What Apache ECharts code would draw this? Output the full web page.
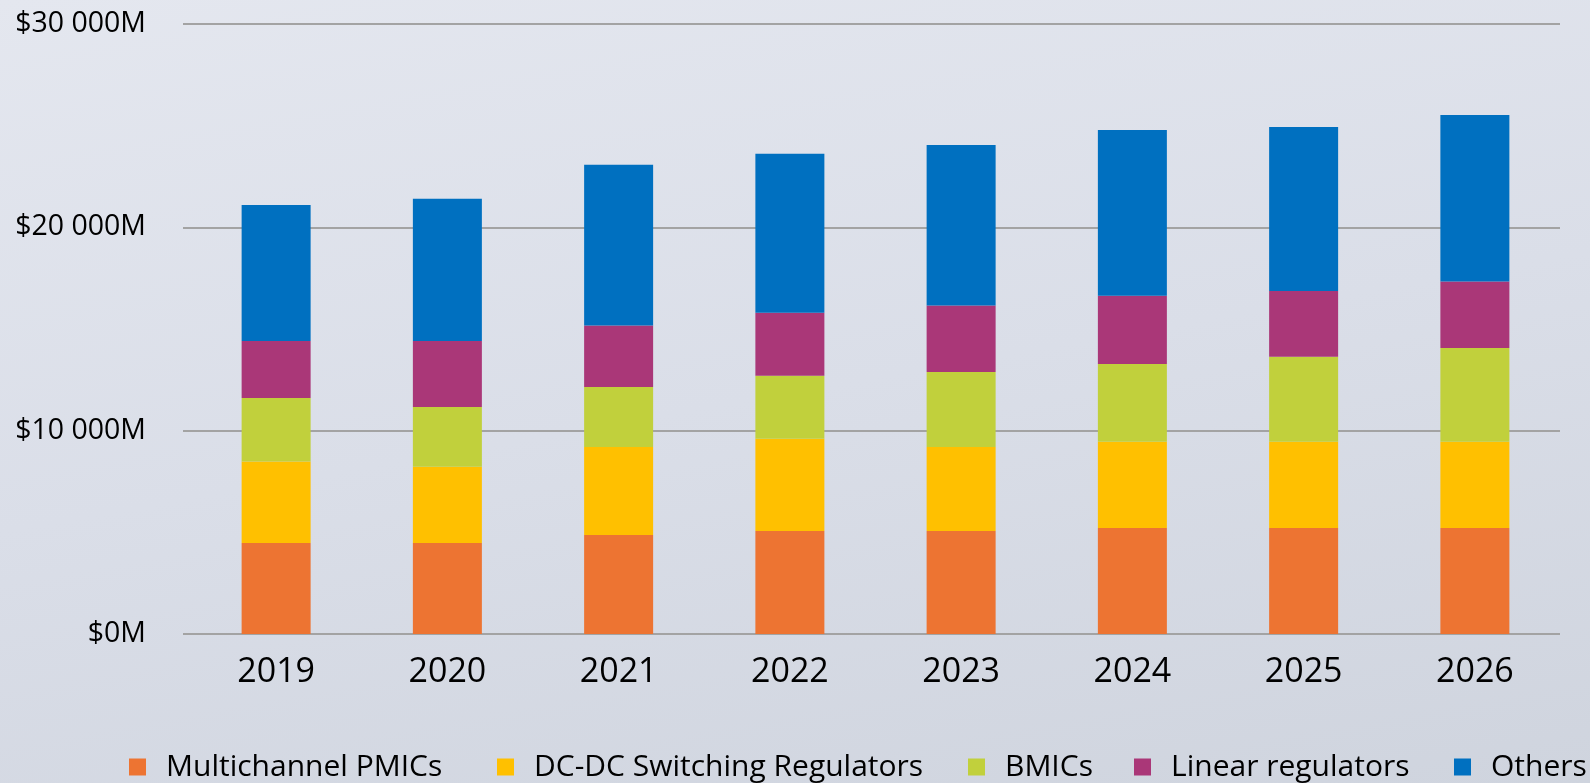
<!DOCTYPE html>
<html>
<head>
<meta charset="utf-8">
<script src="https://cdn.jsdelivr.net/npm/echarts@6.0.0/dist/echarts.min.js"></script>
<style>
  html, body { margin: 0; padding: 0; }
  body {
    width: 1590px; height: 783px;
    background: linear-gradient(170deg, #e4e7ef 0%, #dadee8 50%, #cfd4de 100%);
  }
  #chart { width: 1590px; height: 783px; }
</style>
</head>
<body>
<div id="chart"></div>
<script>
// ===== data =====
const years = ['2019', '2020', '2021', '2022', '2023', '2024', '2025', '2026'];
const seriesNames = ['Multichannel PMICs', 'DC-DC Switching Regulators', 'BMICs', 'Linear regulators', 'Others'];
const seriesColors = ['#ED7432', '#FFC000', '#C1D03C', '#AA3778', '#0070C0'];

const multichannelPmics = [4480, 4480, 4870, 5070, 5070, 5210, 5210, 5210];
const dcdcRegulators    = [4000, 3740, 4330, 4530, 4130, 4240, 4240, 4240];
const bmics             = [3130, 2950, 2950, 3100, 3690, 3830, 4180, 4620];
const linearRegulators  = [2800, 3240, 3020, 3100, 3260, 3350, 3240, 3270];
const others            = [6690, 6990, 7910, 7820, 7900, 8160, 8070, 8180];
const seriesValues = [multichannelPmics, dcdcRegulators, bmics, linearRegulators, others];

const yMin = 0, yMax = 30000, yStep = 10000;

// legend marker positions (left edge of each marker)
const legendLeft = [129, 497, 968, 1134, 1454];

function money(v) {
  return '$' + String(v).replace(/\B(?=(\d{3})+(?!\d))/g, ' ') + 'M';
}

const chart = echarts.init(document.getElementById('chart'));
const font = '"Open Sans", "Noto Sans", sans-serif';

const option = {
  backgroundColor: 'transparent',
  animation: false,
  textStyle: { fontFamily: font },
  grid: [
    // grid 0: y labels + gridlines
    { left: 183, right: 30, top: 24, bottom: 149 },
    // grid 1: bars + categories
    { left: 190.5, right: 29.5, top: 24, bottom: 149 }
  ],
  legend: seriesNames.map((n, i) => ({
    data: [n],
    left: legendLeft[i],
    top: 752,
    padding: 0,
    itemWidth: 17,
    itemHeight: 17,
    icon: 'rect',
    selectedMode: false,
    textStyle: { fontSize: 30, lineHeight: 17, color: '#000', fontFamily: font, padding: [0, 0, 0, 15] }
  })),
  xAxis: [
    { gridIndex: 0, type: 'category', data: years, show: false },
    {
      gridIndex: 1, type: 'category', data: years,
      axisLine: { show: false },
      axisTick: { show: false },
      axisLabel: { fontSize: 34, color: '#000', margin: 21, fontFamily: font }
    }
  ],
  yAxis: [
    {
      gridIndex: 0, type: 'value', min: yMin, max: yMax, interval: yStep,
      axisLine: { show: false }, axisTick: { show: false },
      axisLabel: { fontSize: 28.5, color: '#000', margin: 37, formatter: money, fontFamily: font },
      splitLine: { lineStyle: { color: '#a3a3a3', width: 2 } }
    },
    {
      gridIndex: 1, type: 'value', min: yMin, max: yMax, interval: yStep,
      show: false, splitLine: { show: false }
    }
  ],
  series: seriesNames.map((n, i) => ({
    name: n,
    type: 'bar',
    stack: 'total',
    xAxisIndex: 1,
    yAxisIndex: 1,
    barWidth: 69,
    itemStyle: { color: seriesColors[i] },
    data: seriesValues[i]
  }))
};

chart.setOption(option);
</script>
</body>
</html>
